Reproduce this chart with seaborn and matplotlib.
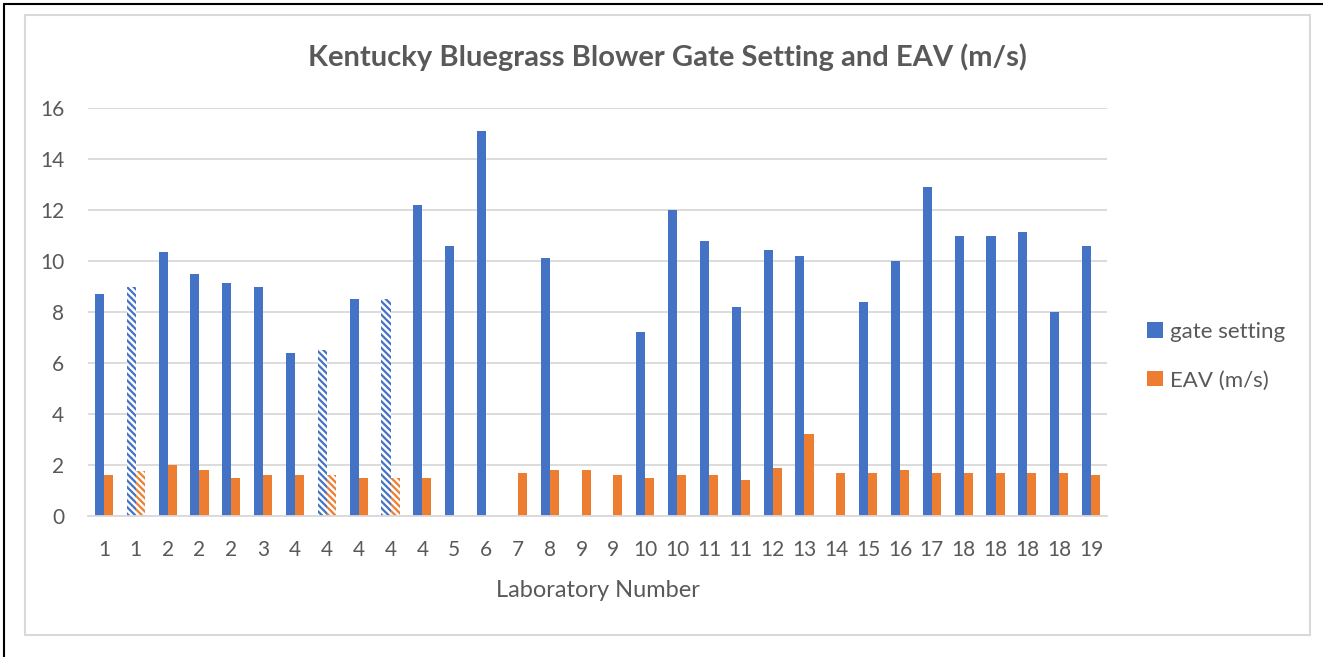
import matplotlib
matplotlib.use("Agg")
import matplotlib.pyplot as plt
from matplotlib.patches import Rectangle
import seaborn as sns
import pandas as pd

# Laboratory numbers along the x axis (repeated labs are separate runs)
labs = ["1", "1", "2", "2", "2", "3", "4", "4", "4", "4", "4", "5", "6", "7", "8", "9",
        "9", "10", "10", "11", "11", "12", "13", "14", "15", "16", "17", "18", "18", "18",
        "18", "19"]

gate_setting = [8.7, 9.0, 10.35, 9.5, 9.15, 9.0, 6.4, 6.5, 8.5, 8.5, 12.2, 10.6, 15.1, 0.0,
                10.1, 0.0, 0.0, 7.2, 12.0, 10.8, 8.2, 10.45, 10.2, 0.0, 8.4, 10.0, 12.9,
                11.0, 11.0, 11.15, 8.0, 10.6]

eav = [1.6, 1.75, 2.0, 1.8, 1.5, 1.6, 1.6, 1.6, 1.5, 1.5, 1.5, 0.0, 0.0, 1.7, 1.8, 1.8,
       1.6, 1.5, 1.6, 1.6, 1.4, 1.9, 3.2, 1.7, 1.7, 1.8, 1.7, 1.7, 1.7, 1.7, 1.7, 1.6]

# Runs shown with a patterned fill
patterned = [1, 7, 9]

series_names = ["gate setting", "EAV (m/s)"]
colors = ["#4472C4", "#ED7D31"]

rows = []
for i in range(len(labs)):
    rows.append({"run": i, "series": series_names[0], "value": gate_setting[i]})
    rows.append({"run": i, "series": series_names[1], "value": eav[i]})
df = pd.DataFrame(rows)

sns.set_theme(style="white")
plt.rcParams["font.family"] = ["Lato", "DejaVu Sans"]
plt.rcParams["hatch.linewidth"] = 1.6
text_color = "#595959"

fig = plt.figure(figsize=(13.23, 6.57), dpi=100)
ax = fig.add_axes([88 / 1323, 1 - 516 / 657, (1107 - 88) / 1323, (516 - 108) / 657])

sns.barplot(data=df, x="run", y="value", hue="series", hue_order=series_names,
            palette=colors, width=0.57, gap=0, linewidth=0, saturation=1,
            errorbar=None, ax=ax, legend=True)

for cont, col in zip(ax.containers, colors):
    for i, bar in enumerate(cont):
        if i in patterned:
            bar.set_facecolor("white")
            bar.set_edgecolor(col)
            bar.set_linewidth(0)
            bar.set_hatch("\\\\\\\\\\")

ax.set_ylim(0, 16)
ax.set_yticks(range(0, 17, 2))
ax.set_xlim(-0.5, len(labs) - 0.5)
ax.set_xticks(range(len(labs)))
ax.set_xticklabels(labs)
ax.yaxis.grid(True, color="#D9D9D9", linewidth=1.3)
ax.set_axisbelow(True)
for s in ["top", "right", "left"]:
    ax.spines[s].set_visible(False)
ax.spines["bottom"].set_color("#D9D9D9")
ax.spines["bottom"].set_linewidth(1.3)
ax.tick_params(axis="both", length=0, labelsize=15, colors=text_color)
ax.tick_params(axis="x", pad=17)
ax.tick_params(axis="y", pad=17)
ax.set_xlabel("Laboratory Number", fontsize=17, color=text_color, labelpad=15)
ax.set_ylabel("")

leg = ax.legend(loc="center left", bbox_to_anchor=(1127 / 1323, 1 - 356 / 657),
                bbox_transform=fig.transFigure, frameon=False, fontsize=16,
                handlelength=0.7, handleheight=0.7, handletextpad=0.35,
                labelspacing=1.3, labelcolor=text_color)

fig.suptitle("Kentucky Bluegrass Blower Gate Setting and EAV (m/s)", x=667 / 1323,
             y=1 - 57 / 657, va="center", fontsize=21, fontweight="bold", color=text_color)

# Chart frame and outer page border
fig.patches.append(Rectangle((25 / 1323, 1 - 635 / 657), (1310 - 25) / 1323, (635 - 15) / 657,
                             transform=fig.transFigure, fill=False, edgecolor="#D9D9D9",
                             linewidth=1.5))
fig.add_artist(plt.Line2D([4 / 1323, 4 / 1323], [0, 1 - 4 / 657], transform=fig.transFigure,
                          color="black", linewidth=1.5))
fig.add_artist(plt.Line2D([4 / 1323, 1], [1 - 4 / 657, 1 - 4 / 657], transform=fig.transFigure,
                          color="black", linewidth=1.5))

fig.savefig("out.png", dpi=100)
